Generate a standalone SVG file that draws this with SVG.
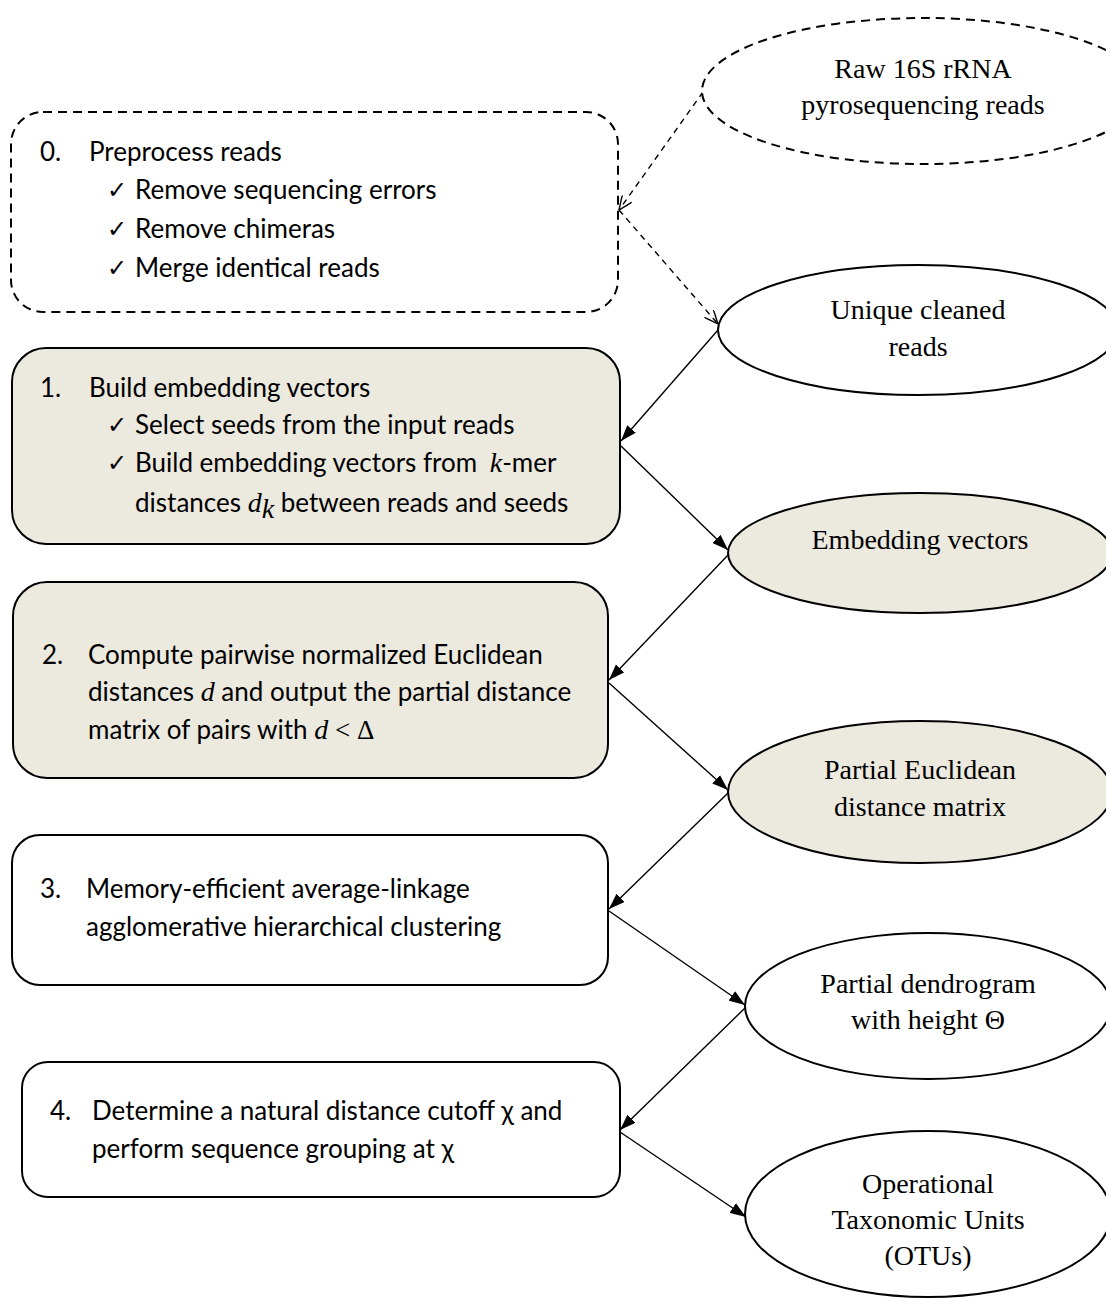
<svg xmlns="http://www.w3.org/2000/svg" width="1106" height="1299" viewBox="0 0 1106 1299">
  <style>
    .box { stroke: #000; stroke-width: 2; }
    .plain { fill: #fff; }
    .shaded { fill: #ECE9DF; }
    .dashed { fill: #fff; stroke-dasharray: 9 6; }
    .step { font-family: Lato, "Open Sans", "Noto Sans", sans-serif; font-size: 26px; fill: #000; }
    .tick { font-family: "DejaVu Sans", sans-serif; font-size: 24px; }
    .math { font-family: "Liberation Serif", serif; font-style: italic; font-size: 28px; }
    .mathup { font-family: "Liberation Serif", serif; font-size: 27px; }
    .label { font-family: "Liberation Serif", "Times New Roman", serif; font-size: 28px; fill: #000; text-anchor: middle; }
    .conn { stroke: #000; stroke-width: 1.4; fill: none; }
    .conn-dash { stroke: #000; stroke-width: 1.4; fill: none; stroke-dasharray: 6 5; }
  </style>
  <defs>
    <marker id="solid-head" viewBox="0 0 14 10" refX="14" refY="5" markerWidth="16" markerHeight="12" markerUnits="userSpaceOnUse" orient="auto">
      <path d="M0,0 L14,5 L0,10 Z" fill="#000"/>
    </marker>
    <marker id="open-head" viewBox="0 0 14 12" refX="14" refY="6" markerWidth="14" markerHeight="12" markerUnits="userSpaceOnUse" orient="auto">
      <path d="M0,0 L14,6 L0,12" fill="none" stroke="#000" stroke-width="1.4"/>
    </marker>
  </defs>

  <rect width="1106" height="1299" fill="#fff"/>

  <!-- connectors -->
  <g id="connectors">
    <line class="conn-dash" x1="703" y1="92" x2="619" y2="210" marker-end="url(#open-head)"/>
    <line class="conn-dash" x1="619" y1="210" x2="718" y2="324" marker-end="url(#open-head)"/>
    <line class="conn" x1="718" y1="330" x2="621" y2="441" marker-end="url(#solid-head)"/>
    <line class="conn" x1="621" y1="446" x2="728" y2="550" marker-end="url(#solid-head)"/>
    <line class="conn" x1="728" y1="555" x2="609" y2="680" marker-end="url(#solid-head)"/>
    <line class="conn" x1="609" y1="683" x2="728" y2="790" marker-end="url(#solid-head)"/>
    <line class="conn" x1="728" y1="793" x2="609" y2="909" marker-end="url(#solid-head)"/>
    <line class="conn" x1="609" y1="911" x2="745" y2="1005" marker-end="url(#solid-head)"/>
    <line class="conn" x1="745" y1="1008" x2="620" y2="1130" marker-end="url(#solid-head)"/>
    <line class="conn" x1="620" y1="1132" x2="746" y2="1217" marker-end="url(#solid-head)"/>
  </g>

  <!-- input reads -->
  <g id="raw-reads">
    <ellipse class="box dashed" cx="923" cy="91" rx="221" ry="73"/>
    <text class="label" x="923" y="78">Raw 16S rRNA</text>
    <text class="label" x="923" y="114">pyrosequencing reads</text>
  </g>

  <!-- step 0 -->
  <g id="step0">
    <rect class="box dashed" x="11" y="112" width="607" height="200" rx="32"/>
    <text class="step" x="40" y="161">0.</text>
    <text class="step" x="89" y="161">Preprocess reads</text>
    <text class="step tick" x="107" y="198">✓</text>
    <text class="step" x="135" y="199">Remove sequencing errors</text>
    <text class="step tick" x="107" y="237">✓</text>
    <text class="step" x="135" y="238">Remove chimeras</text>
    <text class="step tick" x="107" y="276">✓</text>
    <text class="step" x="135" y="277">Merge identical reads</text>
  </g>

  <g id="unique-reads">
    <ellipse class="box plain" cx="918" cy="330" rx="200" ry="65"/>
    <text class="label" x="918" y="319">Unique cleaned</text>
    <text class="label" x="918" y="356">reads</text>
  </g>

  <!-- step 1 -->
  <g id="step1">
    <rect class="box shaded" x="12" y="348" width="608" height="196" rx="34"/>
    <text class="step" x="40" y="397">1.</text>
    <text class="step" x="89" y="397">Build embedding vectors</text>
    <text class="step tick" x="107" y="433">✓</text>
    <text class="step" x="135" y="434">Select seeds from the input reads</text>
    <text class="step tick" x="107" y="471">✓</text>
    <text class="step" x="135" y="472">Build embedding vectors from <tspan class="math" dx="6">k</tspan>-mer</text>
    <text class="step" x="135" y="512">distances <tspan class="math">d</tspan><tspan class="math" font-size="20" dy="6">k</tspan><tspan dy="-6"> between reads and seeds</tspan></text>
  </g>

  <g id="embedding-vectors">
    <ellipse class="box shaded" cx="920" cy="553" rx="192" ry="60"/>
    <text class="label" x="920" y="549">Embedding vectors</text>
  </g>

  <!-- step 2 -->
  <g id="step2">
    <rect class="box shaded" x="13" y="582" width="595" height="196" rx="34"/>
    <text class="step" x="42" y="664">2.</text>
    <text class="step" x="88" y="664">Compute pairwise normalized Euclidean</text>
    <text class="step" x="88" y="701">distances <tspan class="math">d</tspan> and output the partial distance</text>
    <text class="step" x="88" y="739">matrix of pairs with <tspan class="math">d</tspan><tspan class="mathup"> &lt; Δ</tspan></text>
  </g>

  <g id="partial-distance-matrix">
    <ellipse class="box shaded" cx="920" cy="792" rx="192" ry="71"/>
    <text class="label" x="920" y="779">Partial Euclidean</text>
    <text class="label" x="920" y="816">distance matrix</text>
  </g>

  <!-- step 3 -->
  <g id="step3">
    <rect class="box plain" x="12" y="835" width="596" height="150" rx="28"/>
    <text class="step" x="40" y="898">3.</text>
    <text class="step" x="86" y="898">Memory-efficient average-linkage</text>
    <text class="step" x="86" y="936">agglomerative hierarchical clustering</text>
  </g>

  <g id="partial-dendrogram">
    <ellipse class="box plain" cx="928" cy="1006" rx="183" ry="73"/>
    <text class="label" x="928" y="993">Partial dendrogram</text>
    <text class="label" x="928" y="1029">with height Θ</text>
  </g>

  <!-- step 4 -->
  <g id="step4">
    <rect class="box plain" x="22" y="1062" width="598" height="135" rx="26"/>
    <text class="step" x="50" y="1120">4.</text>
    <text class="step" x="92" y="1120">Determine a natural distance cutoff χ and</text>
    <text class="step" x="92" y="1158">perform sequence grouping at χ</text>
  </g>

  <g id="otus">
    <ellipse class="box plain" cx="928" cy="1214" rx="183" ry="83"/>
    <text class="label" x="928" y="1193">Operational</text>
    <text class="label" x="928" y="1229">Taxonomic Units</text>
    <text class="label" x="928" y="1265">(OTUs)</text>
  </g>
</svg>
